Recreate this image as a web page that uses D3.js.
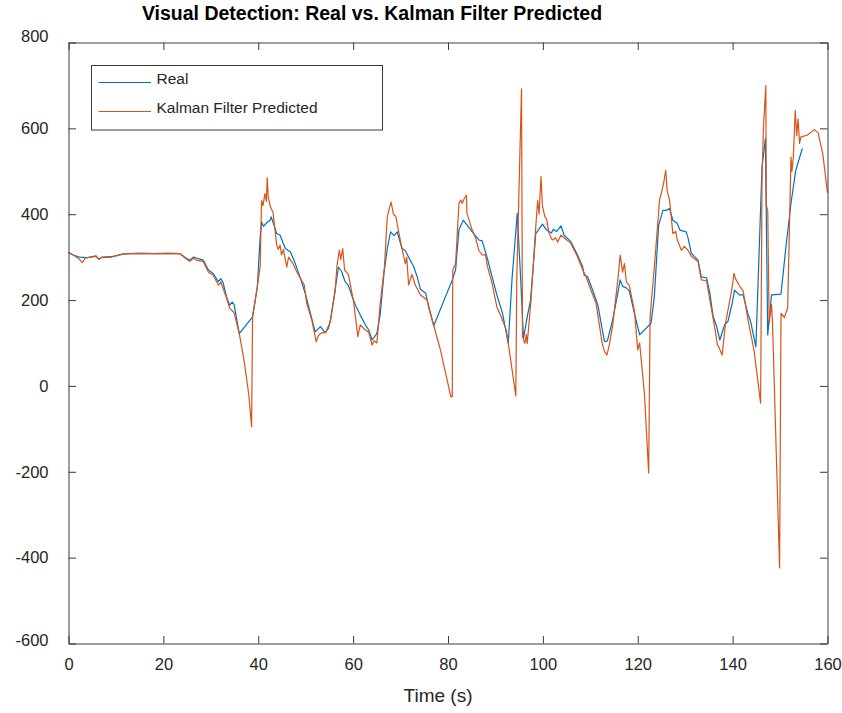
<!DOCTYPE html>
<html><head><meta charset="utf-8">
<script src="https://cdn.jsdelivr.net/npm/d3@7/dist/d3.min.js"></script>
<style>body{margin:0;background:#fff} text{font-family:"Liberation Sans",Arial,sans-serif;fill:#262626}</style>
</head><body><svg id="c" width="842" height="713"></svg>
<script>
const titleText = "Visual Detection: Real vs. Kalman Filter Predicted";
const xLabel = "Time (s)";
const seriesNames = ["Real", "Kalman Filter Predicted"];
const xTicks = [0, 20, 40, 60, 80, 100, 120, 140, 160];
const yTicks = [-600, -400, -200, 0, 200, 400, 600, 800];

const realT = [0,1,2.3,4,5.8,6.4,7,9,11.4,13,15,18,21,23.5,24.9,25.6,26.3,27,28.4,29.5,30.5,31.6,32.1,32.6,33.3,34.0,34.5,34.9,36.0,38.8,39.8,40.4,40.7,41.1,41.8,42.5,42.7,43.1,43.9,44.6,45.7,46.8,47.8,48.8,49.9,51,52,53.1,54.1,54.8,55.2,56.2,56.9,57.6,58.3,59.0,59.8,60.5,61.5,62.6,63.3,64.0,65.0,65.7,66.5,67.2,67.9,68.6,69.3,70.3,71,72.8,73.5,74.2,75.3,76,77.0,80.9,81.6,82.3,83.2,84,85.1,86.5,87.2,88.3,89.3,90.4,91.5,92.7,93.5,94.6,95.3,95.9,96.7,97.4,98.5,99.9,100.8,101.8,102.2,102.9,103.8,104.5,105.9,107.3,108.4,108.7,109.4,110.5,111.6,112.4,113,113.6,114.7,115.8,116.3,116.8,117.5,118.2,119.3,120.4,122.8,123.5,124.4,125.3,126,126.7,127.4,128.3,128.9,130.2,130.6,131.3,132.7,133.4,134.5,135.2,135.9,136.6,137.3,138.3,139,139.9,140.4,141.4,142.2,143.2,143.8,144.9,146.2,146.9,147.4,148.2,150.2,151.2,152.3,153.3,154.7];
const realV = [311,305,300,299,303,295,300,301,307,308,309,308,309,308,297,293,300,298,293,270,262,243,250,240,208,188,195,190,122,161,230,347,382,372,380,386,394,382,355,351,320,312,285,254,216,169,126,138,124,134,153,223,277,266,243,234,208,188,165,142,130,107,122,165,262,320,359,350,359,320,315,277,254,225,216,180,140,247,270,363,386,375,359,340,338,297,254,208,169,99,250,402,254,111,161,200,355,377,363,356,365,360,373,351,336,305,277,258,255,223,188,138,103,105,153,216,247,232,229,222,169,119,146,208,374,409,409,413,386,379,363,359,345,309,293,254,252,216,161,140,107,142,150,192,223,212,212,169,150,91,510,576,119,212,214,320,425,502,553];

const predT = [0,1,2.3,2.9,3.5,5.8,6.4,7,9,11.4,13,15,18,21,23.5,24.9,25.6,26.3,27,28.4,29.5,30.5,31.6,32.1,32.6,33.3,34.0,34.9,36.0,37.0,38.0,38.6,38.8,39.8,40.4,40.7,41.0,41.4,41.7,41.9,42.1,42.5,42.9,43.1,43.9,44.2,44.6,44.9,45.3,46,46.4,47.3,48.3,49.7,50.2,51.3,52.2,52.7,53.4,54.2,55.2,56.2,56.6,57.1,57.4,57.8,58.2,59,60.1,61,61.5,62.6,63.3,64,64.4,65,65.7,66.6,67.2,67.7,68.0,68.5,69,69.6,70.3,71.0,71.3,71.7,72.4,73.1,74.2,75.6,76.7,78.4,80.6,80.9,81.0,81.6,82.3,82.7,83.0,83.4,83.9,84.0,85.1,85.8,86.5,87.2,87.9,88.3,89.3,90.3,91.2,92.3,94.3,94.5,95.5,95.7,96.2,96.5,96.7,97.5,98.5,98.9,99.2,99.6,99.9,100.4,100.8,101.3,102.0,102.7,103.1,103.8,104.5,105.9,107.3,108.4,109.1,110.1,111.2,112.5,113,113.5,114,114.7,115.8,116.3,116.8,117.2,117.6,118.2,119.3,120,120.4,121.4,122.3,122.6,123.5,124.6,125.1,125.5,125.9,126.2,126.7,127.4,128,128.3,129.2,129.8,130.6,131.3,132.7,133.4,134.5,135.2,136.2,136.8,137.1,137.6,137.8,138.5,139.8,140.3,140.6,141.5,142.2,143.2,143.5,144.5,145.9,146.2,146.5,147.0,147.1,147.4,147.7,148.2,148.4,149.9,150.2,150.9,151.6,151.9,152.3,152.5,152.8,153.2,153.5,153.8,154.1,154.4,155.7,157.2,158.0,159,160];
const predV = [311,305,295,287,298,302,295,299,300,307,308,309,308,309,308,295,290,298,293,290,265,258,235,242,227,205,180,171,122,60,-20,-95,161,230,277,432,420,448,430,485,440,420,409,405,328,318,328,305,318,277,300,285,262,235,193,153,103,118,124,124,150,220,281,316,295,320,270,260,196,115,142,130,125,95,105,100,192,277,394,417,428,400,395,359,320,285,300,235,260,235,212,200,153,84,-25,-25,270,285,425,433,425,436,444,402,363,345,316,305,306,279,239,184,161,130,-23,250,692,115,99,120,99,200,370,432,400,488,420,395,388,355,340,345,335,351,345,332,301,270,255,224,193,99,80,72,95,140,247,305,265,285,242,235,175,84,100,-17,-203,161,277,433,455,475,502,455,433,355,360,341,316,325,316,302,290,247,245,200,138,95,91,76,72,146,223,262,250,232,222,157,139,84,-40,487,603,700,420,409,146,190,150,-424,169,160,181,330,533,500,533,642,583,622,565,580,584,597,590,541,450];

const colors = ["#0072BD", "#D95319"];

const svg = d3.select("#c");
const L = 68.5, R = 827.5, T = 42.5, B = 643.5;
const x = d3.scaleLinear().domain([0, 160]).range([L, R]);
const y = d3.scaleLinear().domain([-600, 800]).range([B, T]);

// title
svg.append("text").attr("x", 372).attr("y", 19.5).attr("text-anchor", "middle")
  .style("font-weight", "bold").style("font-size", "19.5px").style("fill", "#000").text(titleText);

// lines
const line = d3.line().x(d => x(d[0])).y(d => y(d[1]));
const realData = realT.map((t, i) => [t, realV[i]]);
const predData = predT.map((t, i) => [t, predV[i]]);
const plot = svg.append("g");
plot.append("path").datum(realData).attr("d", line).attr("fill", "none")
  .attr("stroke", colors[0]).attr("stroke-width", 1.2).attr("stroke-linejoin", "round");
plot.append("path").datum(predData).attr("d", line).attr("fill", "none")
  .attr("stroke", colors[1]).attr("stroke-width", 1.2).attr("stroke-linejoin", "round");

// axes
const axCol = "#3a3a3a";
const fmt = d => String(d);
function styleAxis(g) {
  g.select(".domain").attr("stroke", axCol);
  g.selectAll(".tick line").attr("stroke", axCol);
  g.selectAll(".tick text").style("font-size", "16.5px").style("font-family", '"Liberation Sans",Arial,sans-serif').attr("fill", "#262626");
}
const gx = svg.append("g").attr("transform", `translate(0,${B})`)
  .call(d3.axisBottom(x).tickValues(xTicks).tickSizeInner(-7.5).tickSizeOuter(0).tickPadding(15).tickFormat(fmt));
styleAxis(gx);
const gxt = svg.append("g").attr("transform", `translate(0,${T})`)
  .call(d3.axisTop(x).tickValues(xTicks).tickSizeInner(-7.5).tickSizeOuter(0).tickFormat(""));
styleAxis(gxt);
const gy = svg.append("g").attr("transform", `translate(${L},0)`)
  .call(d3.axisLeft(y).tickValues(yTicks).tickSizeInner(-7.5).tickSizeOuter(0).tickPadding(20).tickFormat(fmt));
styleAxis(gy);
gy.selectAll(".tick text").attr("dy", d => d === 800 ? "-0.05em" : d === -600 ? "0.15em" : "0.32em");
const gyr = svg.append("g").attr("transform", `translate(${R},0)`)
  .call(d3.axisRight(y).tickValues(yTicks).tickSizeInner(-7.5).tickSizeOuter(0).tickFormat(""));
styleAxis(gyr);

// x label
svg.append("text").attr("x", 438).attr("y", 702).attr("text-anchor", "middle")
  .style("font-size", "19px").text(xLabel);

// legend
const lg = svg.append("g");
lg.append("rect").attr("x", 91.5).attr("y", 65.5).attr("width", 291).attr("height", 64.5)
  .attr("fill", "#fff").attr("stroke", axCol).attr("stroke-width", 1);
const legendY = [82.5, 111.5];
seriesNames.forEach((name, i) => {
  lg.append("line").attr("x1", 98.5).attr("x2", 151).attr("y1", legendY[i]).attr("y2", legendY[i])
    .attr("stroke", colors[i]).attr("stroke-width", 1.2);
  lg.append("text").attr("x", 156.5).attr("y", legendY[i] + 1.8).style("font-size", "15.5px").text(name);
});
</script></body></html>
